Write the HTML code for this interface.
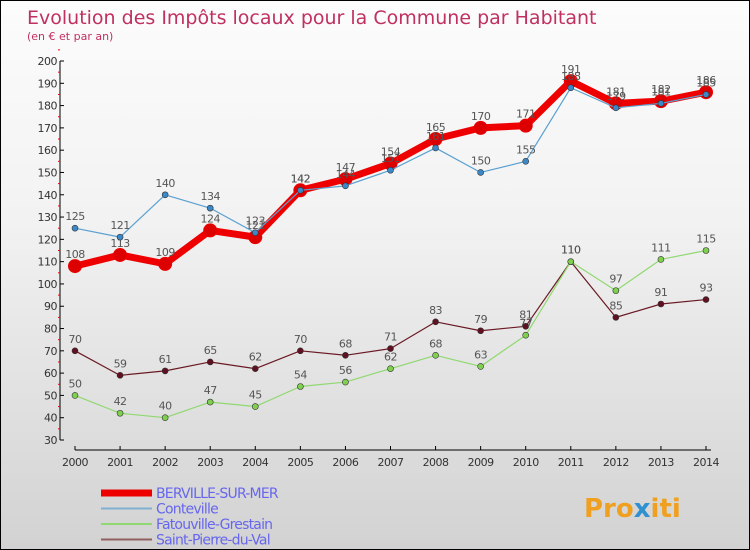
<!DOCTYPE html>
<html><head><meta charset="utf-8"><style>
body{margin:0}
#c{width:750px;height:550px;position:relative;box-sizing:border-box;border:1px solid #000;background:linear-gradient(#fcfcfc,#f2f2f2 40%,#d2d2d2);font-family:"DejaVu Sans","Liberation Sans",sans-serif;overflow:hidden}
</style></head><body>
<div id="c">
<svg width="748" height="548" font-family="DejaVu Sans, Liberation Sans, sans-serif">
<text x="26" y="23" font-size="19" fill="#c03060">Evolution des Impôts locaux pour la Commune par Habitant</text>
<text x="26" y="39" font-size="11" fill="#c03060">(en € et par an)</text>
<g id="axes"></g><g id="series"></g>
<g id="legend"></g>
<text x="583" y="516" font-size="26" font-weight="bold" fill="#f0a020">Pro<tspan fill="#3090d0">x</tspan>iti</text>
</svg></div>
<script>
const years=[2000,2001,2002,2003,2004,2005,2006,2007,2008,2009,2010,2011,2012,2013,2014];
const berville=[108,113,109,124,121,142,147,154,165,170,171,191,181,182,186];
const conteville=[125,121,140,134,123,142,144,151,161,150,155,188,179,181,185];
const fatouville=[50,42,40,47,45,54,56,62,68,63,77,110,97,111,115];
const stpierre=[70,59,61,65,62,70,68,71,83,79,81,110,85,91,93];
const yTicks=[30,40,50,60,70,80,90,100,110,120,130,140,150,160,170,180,190,200];
const NS='http://www.w3.org/2000/svg';
const X=i=>74+i*(631/14);
const Y=v=>439-(v-30)*(379/170);
function mk(t,a,p){const e=document.createElementNS(NS,t);for(const k in a)e.setAttribute(k,a[k]);p.appendChild(e);return e;}
const ax=document.getElementById('axes');
let e=mk('line',{x1:59,y1:Y(200),x2:59,y2:Y(30),stroke:'#000'},ax);

yTicks.forEach(v=>{mk('line',{x1:59,x2:63,y1:Y(v),y2:Y(v),stroke:'#000'},ax);
mk('line',{x1:57,x2:59,y1:Y(v+5),y2:Y(v+5),stroke:'#e00'},ax);
const t=mk('text',{x:56,y:Y(v)+4,'font-size':11,'text-anchor':'end',fill:'#333','letter-spacing':'-0.5'},ax);t.textContent=v;
});
e=mk('line',{x1:74,y1:449,x2:710,y2:449,stroke:'#000'},ax);

years.forEach((y,i)=>{mk('line',{x1:X(i),x2:X(i),y1:445,y2:449,stroke:'#000'},ax);
const t=mk('text',{x:X(i),y:465,'font-size':11,'text-anchor':'middle',fill:'#333','letter-spacing':'-0.5'},ax);t.textContent=y;
});
const sg=document.getElementById('series');
const S=[
{d:stpierre,c:'#6a1a24',w:1.2,r:3,n:'saint-pierre-du-val'},
{d:fatouville,c:'#90d870',w:1.2,r:3,n:'fatouville-grestain'},
{d:berville,c:'#ee0000',w:7,r:6.5,n:'berville-sur-mer'},
{d:conteville,c:'#5aa0d0',w:1.2,r:3,n:'conteville'}];
S.forEach(s=>{const g=mk('g',{},sg);
const p=mk('polyline',{points:s.d.map((v,i)=>X(i)+','+Y(v)).join(' '),fill:'none',stroke:s.c,'stroke-width':s.w,'stroke-linejoin':'round'},g);

s.d.forEach((v,i)=>{const fill=s.n==='berville-sur-mer'?'#d00':(s.n==='conteville'?'#3a88c8':(s.n==='fatouville-grestain'?'#80d050':'#601020'));
const c=mk('circle',{cx:X(i),cy:Y(v),r:s.r,fill:fill,stroke:s.n==='berville-sur-mer'?'#e00':'#333','stroke-width':s.n==='berville-sur-mer'?1:0.6},g);

const t=mk('text',{x:X(i),y:Y(v)-8,'font-size':11,'text-anchor':'middle',fill:'#555','letter-spacing':'-0.5'},g);t.textContent=v;
});});
const lg=document.getElementById('legend');
[['BERVILLE-SUR-MER','#ee0000',7],['Conteville','#80b0d0',2],['Fatouville-Grestain','#90d870',2],['Saint-Pierre-du-Val','#906060',2]].forEach((l,k)=>{
const y=492+k*15.5;
const ln=mk('line',{x1:100,x2:151,y1:y,y2:y,stroke:l[1],'stroke-width':l[2]},lg);

const t=mk('text',{x:155,y:y+5,'font-size':14,fill:'#6666ee','letter-spacing':'-0.8'},lg);t.textContent=l[0];
});
</script></body></html>
